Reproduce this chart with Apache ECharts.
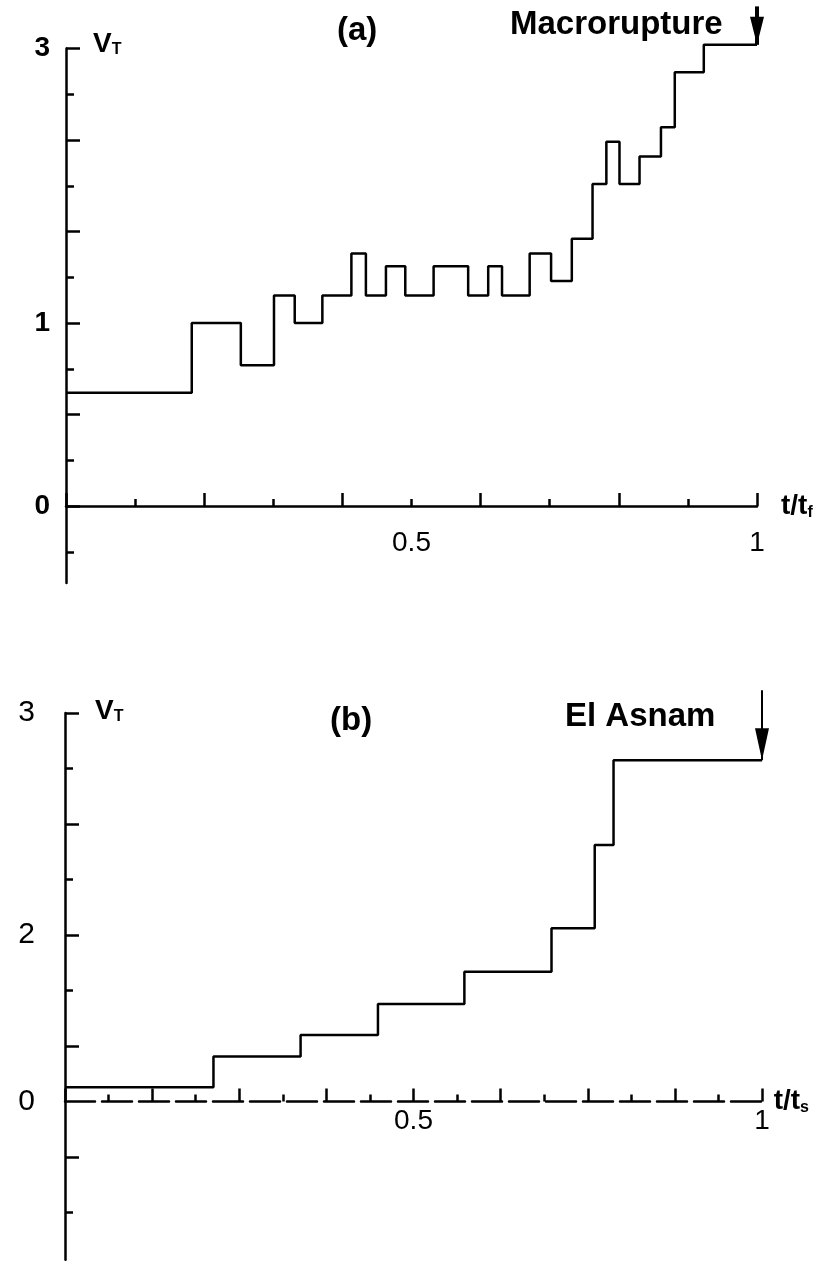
<!DOCTYPE html>
<html>
<head>
<meta charset="utf-8">
<script src="https://cdn.jsdelivr.net/npm/echarts@6/dist/echarts.min.js"></script>
<style>
html,body{margin:0;padding:0;background:#fff;}
#chart{width:830px;height:1261px;}
</style>
</head>
<body>
<div id="chart"></div>
<script>
// Panel (a): Macrorupture — step start times (t/tf) and V_T levels
const aTimes  = [0, 0.182, 0.253, 0.301, 0.331, 0.371, 0.413, 0.434, 0.463, 0.491, 0.532, 0.582, 0.611, 0.631, 0.671, 0.702, 0.732, 0.762, 0.782, 0.801, 0.830, 0.861, 0.881, 0.923, 1.0];
const aLevels = [0.62, 1.00, 0.77, 1.15, 1.00, 1.15, 1.38, 1.15, 1.31, 1.15, 1.31, 1.15, 1.31, 1.15, 1.38, 1.23, 1.46, 1.76, 1.99, 1.76, 1.91, 2.07, 2.37, 2.52, 2.52];
// Panel (b): El Asnam
const bTimes  = [0, 0.213, 0.338, 0.449, 0.573, 0.698, 0.760, 0.787, 1.0];
const bLevels = [0.17, 0.54, 0.80, 1.17, 1.56, 2.08, 3.08, 4.10, 4.10];
// Arrows (event markers): t, top of shaft, tip
const aArrow = { t: 1.0, from: 2.73, to: 2.52 };
const bArrow = { t: 1.0, from: 4.94, to: 4.10 };
// Tick labels as printed in the figure
const aYLabelValues = [0, 1, 2.5];
const aYLabelTexts  = ['0', '1', '3'];
const bYLabelValues = [0, 2, 14 / 3];
const bYLabelTexts  = ['0', '2', '3'];
const xLabelValues  = [0.5, 1];
const xLabelTexts   = ['0.5', '1'];
// y tick positions (long and short marks)
const aYTicksLong  = [-0.5, 0, 0.5, 1, 1.5, 2, 2.5];
const aYTicksShort = [-0.25, 0.25, 0.75, 1.25, 1.75, 2.25];
const bYTicksLong  = [-2 / 3, 2 / 3, 2, 10 / 3, 14 / 3];
const bYTicksShort = [-4 / 3, 4 / 3, 8 / 3, 4];

const FONT = "'Liberation Sans', Arial, Helvetica, sans-serif";
function pairs(xs, ys) { return xs.map((x, i) => [x, ys[i]]); }
function labelFmt(vals, texts) {
  return function (v) {
    for (let i = 0; i < vals.length; i++) if (Math.abs(vals[i] - v) < 1e-6) return texts[i];
    return '';
  };
}
const richV = {
  v: { fontFamily: FONT, fontSize: 28, fontWeight: 'bold', color: '#000' },
  s: { fontFamily: FONT, fontSize: 16, fontWeight: 'bold', color: '#000', padding: [12, 0, 0, 0] }
};
const titleStyle = { fontFamily: FONT, fontSize: 33, fontWeight: 'bold', color: '#000' };
const black = { color: '#000', width: 2.5 };
const HEAD = 'path://M0,0 L10,0 L5,20 Z';

function xAxisDef(grid, interval, name, gap, margin, lineType) {
  return {
    gridIndex: grid, type: 'value', min: 0, max: 1, interval: interval,
    name: name, nameLocation: 'end', nameGap: gap, nameTextStyle: { rich: richV },
    axisLine: { lineStyle: Object.assign({ type: lineType }, black) },
    axisTick: { inside: true, length: 13, lineStyle: black },
    minorTick: { show: true, splitNumber: 2, length: 7, lineStyle: black },
    axisLabel: { customValues: xLabelValues, formatter: labelFmt(xLabelValues, xLabelTexts), margin: margin, fontFamily: FONT, fontSize: 28, color: '#000' },
    splitLine: { show: false }, minorSplitLine: { show: false }
  };
}
function yMain(grid, min, max, longTicks, lv, lt, margin, size, weight) {
  return {
    gridIndex: grid, type: 'value', min: min, max: max,
    axisLine: { lineStyle: black },
    axisTick: { inside: true, length: 14, customValues: longTicks, lineStyle: black },
    axisLabel: { customValues: lv, formatter: labelFmt(lv, lt), margin: margin, fontFamily: FONT, fontSize: size, fontWeight: weight, color: '#000' },
    splitLine: { show: false }
  };
}
function yShort(grid, min, max, shortTicks) {
  return {
    gridIndex: grid, type: 'value', min: min, max: max, position: 'left',
    axisLine: { show: false },
    axisTick: { show: true, inside: true, length: 8, customValues: shortTicks, lineStyle: black },
    axisLabel: { show: false }, splitLine: { show: false }
  };
}

const chart = echarts.init(document.getElementById('chart'), null, { renderer: 'canvas' });
chart.setOption({
  backgroundColor: '#fff',
  animation: false,
  title: [
    { text: '(a)', left: 337, top: 14, padding: 0, textStyle: titleStyle },
    { text: 'Macrorupture', left: 510, top: 8, padding: 0, textStyle: titleStyle },
    { text: '{v|V}{s|T}', left: 93, top: 30, padding: 0, textStyle: { rich: richV } },
    { text: '(b)', left: 330, top: 704, padding: 0, textStyle: titleStyle },
    { text: 'El Asnam', left: 565, top: 700, padding: 0, textStyle: titleStyle },
    { text: '{v|V}{s|T}', left: 95, top: 697, padding: 0, textStyle: { rich: richV } }
  ],
  grid: [
    { left: 66, right: 73, top: 48.5, height: 534.5 },
    { left: 65, right: 68, top: 713, height: 546.7 }
  ],
  xAxis: [
    xAxisDef(0, 0.2, '{v|t/t}{s|f}', 24, -54, 'solid'),
    xAxisDef(1, 0.125, '{v|t/t}{s|s}', 8, -152, [30, 7])
  ],
  yAxis: [
    yMain(0, -0.42, 2.5, aYTicksLong, aYLabelValues, aYLabelTexts, 16, 28, 'bold'),
    yMain(1, -1.9, 14 / 3, bYTicksLong, bYLabelValues, bYLabelTexts, 30, 30, 'normal'),
    yShort(0, -0.42, 2.5, aYTicksShort),
    yShort(1, -1.9, 14 / 3, bYTicksShort)
  ],
  series: [
    {
      type: 'line', xAxisIndex: 0, yAxisIndex: 0, step: 'end', symbol: 'none', clip: false,
      data: pairs(aTimes, aLevels),
      lineStyle: { color: '#000', width: 2.5 }
    },
    {
      type: 'line', xAxisIndex: 1, yAxisIndex: 1, step: 'end', symbol: 'none', clip: false,
      data: pairs(bTimes, bLevels),
      lineStyle: { color: '#000', width: 2.5 }
    },
    // arrow shafts
    {
      type: 'line', xAxisIndex: 0, yAxisIndex: 0, symbol: 'none', clip: false, silent: true,
      data: [[aArrow.t, aArrow.from], [aArrow.t, aArrow.to]],
      lineStyle: { color: '#000', width: 4 }
    },
    {
      type: 'line', xAxisIndex: 1, yAxisIndex: 1, symbol: 'none', clip: false, silent: true,
      data: [[bArrow.t, bArrow.from], [bArrow.t, bArrow.to]],
      lineStyle: { color: '#000', width: 2 }
    },
    // arrow heads (tip at the data point)
    {
      type: 'scatter', xAxisIndex: 0, yAxisIndex: 0, clip: false, silent: true,
      symbol: HEAD, symbolSize: [14, 28], symbolOffset: [0, '-50%'],
      itemStyle: { color: '#000', opacity: 1 },
      data: [[aArrow.t, aArrow.to]]
    },
    {
      type: 'scatter', xAxisIndex: 1, yAxisIndex: 1, clip: false, silent: true,
      symbol: HEAD, symbolSize: [14, 32], symbolOffset: [0, '-50%'],
      itemStyle: { color: '#000', opacity: 1 },
      data: [[bArrow.t, bArrow.to]]
    }
  ]
});
</script>
</body>
</html>
